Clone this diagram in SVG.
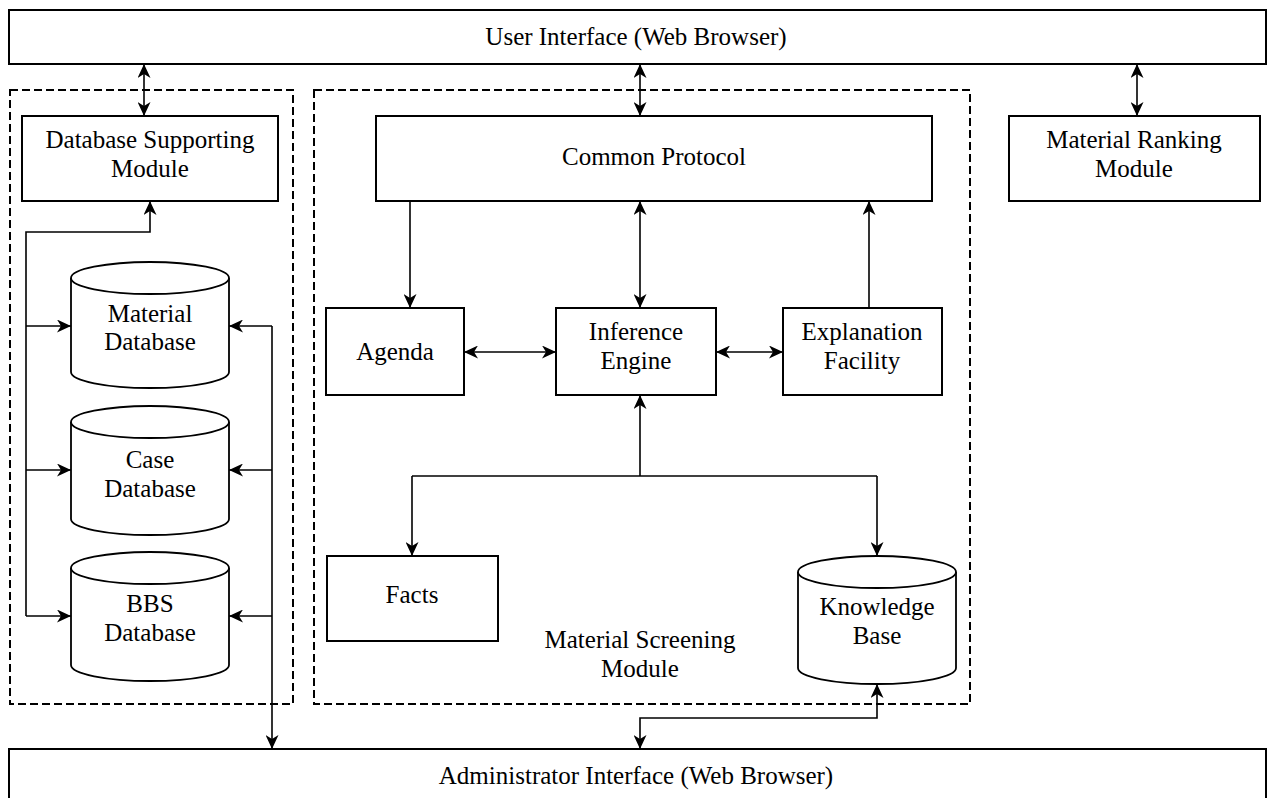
<svg xmlns="http://www.w3.org/2000/svg" width="1269" height="798" viewBox="0 0 1269 798">
<defs>
<style>
.box{fill:#fff;stroke:#000;stroke-width:2}
.dash{fill:none;stroke:#000;stroke-width:2;stroke-dasharray:8,4}
.cyl{fill:#fff;stroke:#000;stroke-width:1.8}
.ln{fill:none;stroke:#000;stroke-width:1.6}
.t{font-family:"Liberation Serif","Times New Roman",serif;font-size:25px;fill:#000;text-anchor:middle}
</style>
<marker id="arr" viewBox="0 0 14 13" refX="14" refY="6.5" markerWidth="14" markerHeight="13" markerUnits="userSpaceOnUse" orient="auto-start-reverse">
<path d="M0,0 L14,6.5 L0,13 L4,6.5 Z" fill="#000"/>
</marker>
</defs>

<g id="ui">
<rect class="box" x="9" y="10" width="1257" height="54"/>
<text class="t" x="636" y="45">User Interface (Web Browser)</text>
</g>

<g id="db-group">
<rect class="dash" x="10" y="90" width="283" height="614"/>
</g>

<g id="ms-group">
<rect class="dash" x="314" y="90" width="656" height="614"/>
<text class="t" x="640" y="648">Material Screening</text>
<text class="t" x="640" y="677">Module</text>
</g>

<g id="dsm">
<rect class="box" x="22" y="116" width="256" height="85"/>
<text class="t" x="150" y="148">Database Supporting</text>
<text class="t" x="150" y="177">Module</text>
</g>

<g id="material-db">
<path class="cyl" d="M71,278 V372 A79,16 0 0 0 229,372 V278"/>
<ellipse class="cyl" cx="150" cy="278" rx="79" ry="16"/>
<text class="t" x="150" y="322">Material</text>
<text class="t" x="150" y="350">Database</text>
</g>

<g id="case-db">
<path class="cyl" d="M71,422 V519 A79,16 0 0 0 229,519 V422"/>
<ellipse class="cyl" cx="150" cy="422" rx="79" ry="16"/>
<text class="t" x="150" y="468">Case</text>
<text class="t" x="150" y="497">Database</text>
</g>

<g id="bbs-db">
<path class="cyl" d="M71,568 V665 A79,16 0 0 0 229,665 V568"/>
<ellipse class="cyl" cx="150" cy="568" rx="79" ry="16"/>
<text class="t" x="150" y="612">BBS</text>
<text class="t" x="150" y="641">Database</text>
</g>

<g id="common-protocol">
<rect class="box" x="376" y="116" width="556" height="85"/>
<text class="t" x="654" y="165">Common Protocol</text>
</g>

<g id="ranking">
<rect class="box" x="1009" y="116" width="251" height="85"/>
<text class="t" x="1134" y="148">Material Ranking</text>
<text class="t" x="1134" y="177">Module</text>
</g>

<g id="agenda">
<rect class="box" x="326" y="308" width="138" height="87"/>
<text class="t" x="395" y="360">Agenda</text>
</g>

<g id="inference">
<rect class="box" x="556" y="308" width="160" height="87"/>
<text class="t" x="636" y="340">Inference</text>
<text class="t" x="636" y="369">Engine</text>
</g>

<g id="explanation">
<rect class="box" x="783" y="308" width="159" height="87"/>
<text class="t" x="862" y="340">Explanation</text>
<text class="t" x="862" y="369">Facility</text>
</g>

<g id="facts">
<rect class="box" x="327" y="556" width="171" height="85"/>
<text class="t" x="412" y="603">Facts</text>
</g>

<g id="kb">
<path class="cyl" d="M798,572 V668 A79,16 0 0 0 956,668 V572"/>
<ellipse class="cyl" cx="877" cy="572" rx="79" ry="16"/>
<text class="t" x="877" y="615">Knowledge</text>
<text class="t" x="877" y="644">Base</text>
</g>

<g id="admin">
<path class="box" d="M9,800 V749 H1266 V800" fill="none"/>
<text class="t" x="636" y="784">Administrator Interface (Web Browser)</text>
</g>

<g id="connectors">
<path class="ln" d="M144,64 V116" marker-start="url(#arr)" marker-end="url(#arr)"/>
<path class="ln" d="M640,64 V116" marker-start="url(#arr)" marker-end="url(#arr)"/>
<path class="ln" d="M1137,64 V116" marker-start="url(#arr)" marker-end="url(#arr)"/>
<path class="ln" d="M26,616 V232 H150 V201" marker-end="url(#arr)"/>
<path class="ln" d="M26,326 H71" marker-end="url(#arr)"/>
<path class="ln" d="M26,470 H71" marker-end="url(#arr)"/>
<path class="ln" d="M26,616 H71" marker-end="url(#arr)"/>
<path class="ln" d="M272,326 V749" marker-end="url(#arr)"/>
<path class="ln" d="M272,326 H229" marker-end="url(#arr)"/>
<path class="ln" d="M272,470 H229" marker-end="url(#arr)"/>
<path class="ln" d="M272,616 H229" marker-end="url(#arr)"/>
<path class="ln" d="M410,201 V308" marker-end="url(#arr)"/>
<path class="ln" d="M640,201 V308" marker-start="url(#arr)" marker-end="url(#arr)"/>
<path class="ln" d="M869,308 V201" marker-end="url(#arr)"/>
<path class="ln" d="M464,352 H556" marker-start="url(#arr)" marker-end="url(#arr)"/>
<path class="ln" d="M716,352 H783" marker-start="url(#arr)" marker-end="url(#arr)"/>
<path class="ln" d="M640,476 V395" marker-end="url(#arr)"/>
<path class="ln" d="M412,476 H877"/>
<path class="ln" d="M412,476 V556" marker-end="url(#arr)"/>
<path class="ln" d="M877,476 V556" marker-end="url(#arr)"/>
<path class="ln" d="M877,684 V718 H640 V749" marker-start="url(#arr)" marker-end="url(#arr)"/>
</g>
</svg>
